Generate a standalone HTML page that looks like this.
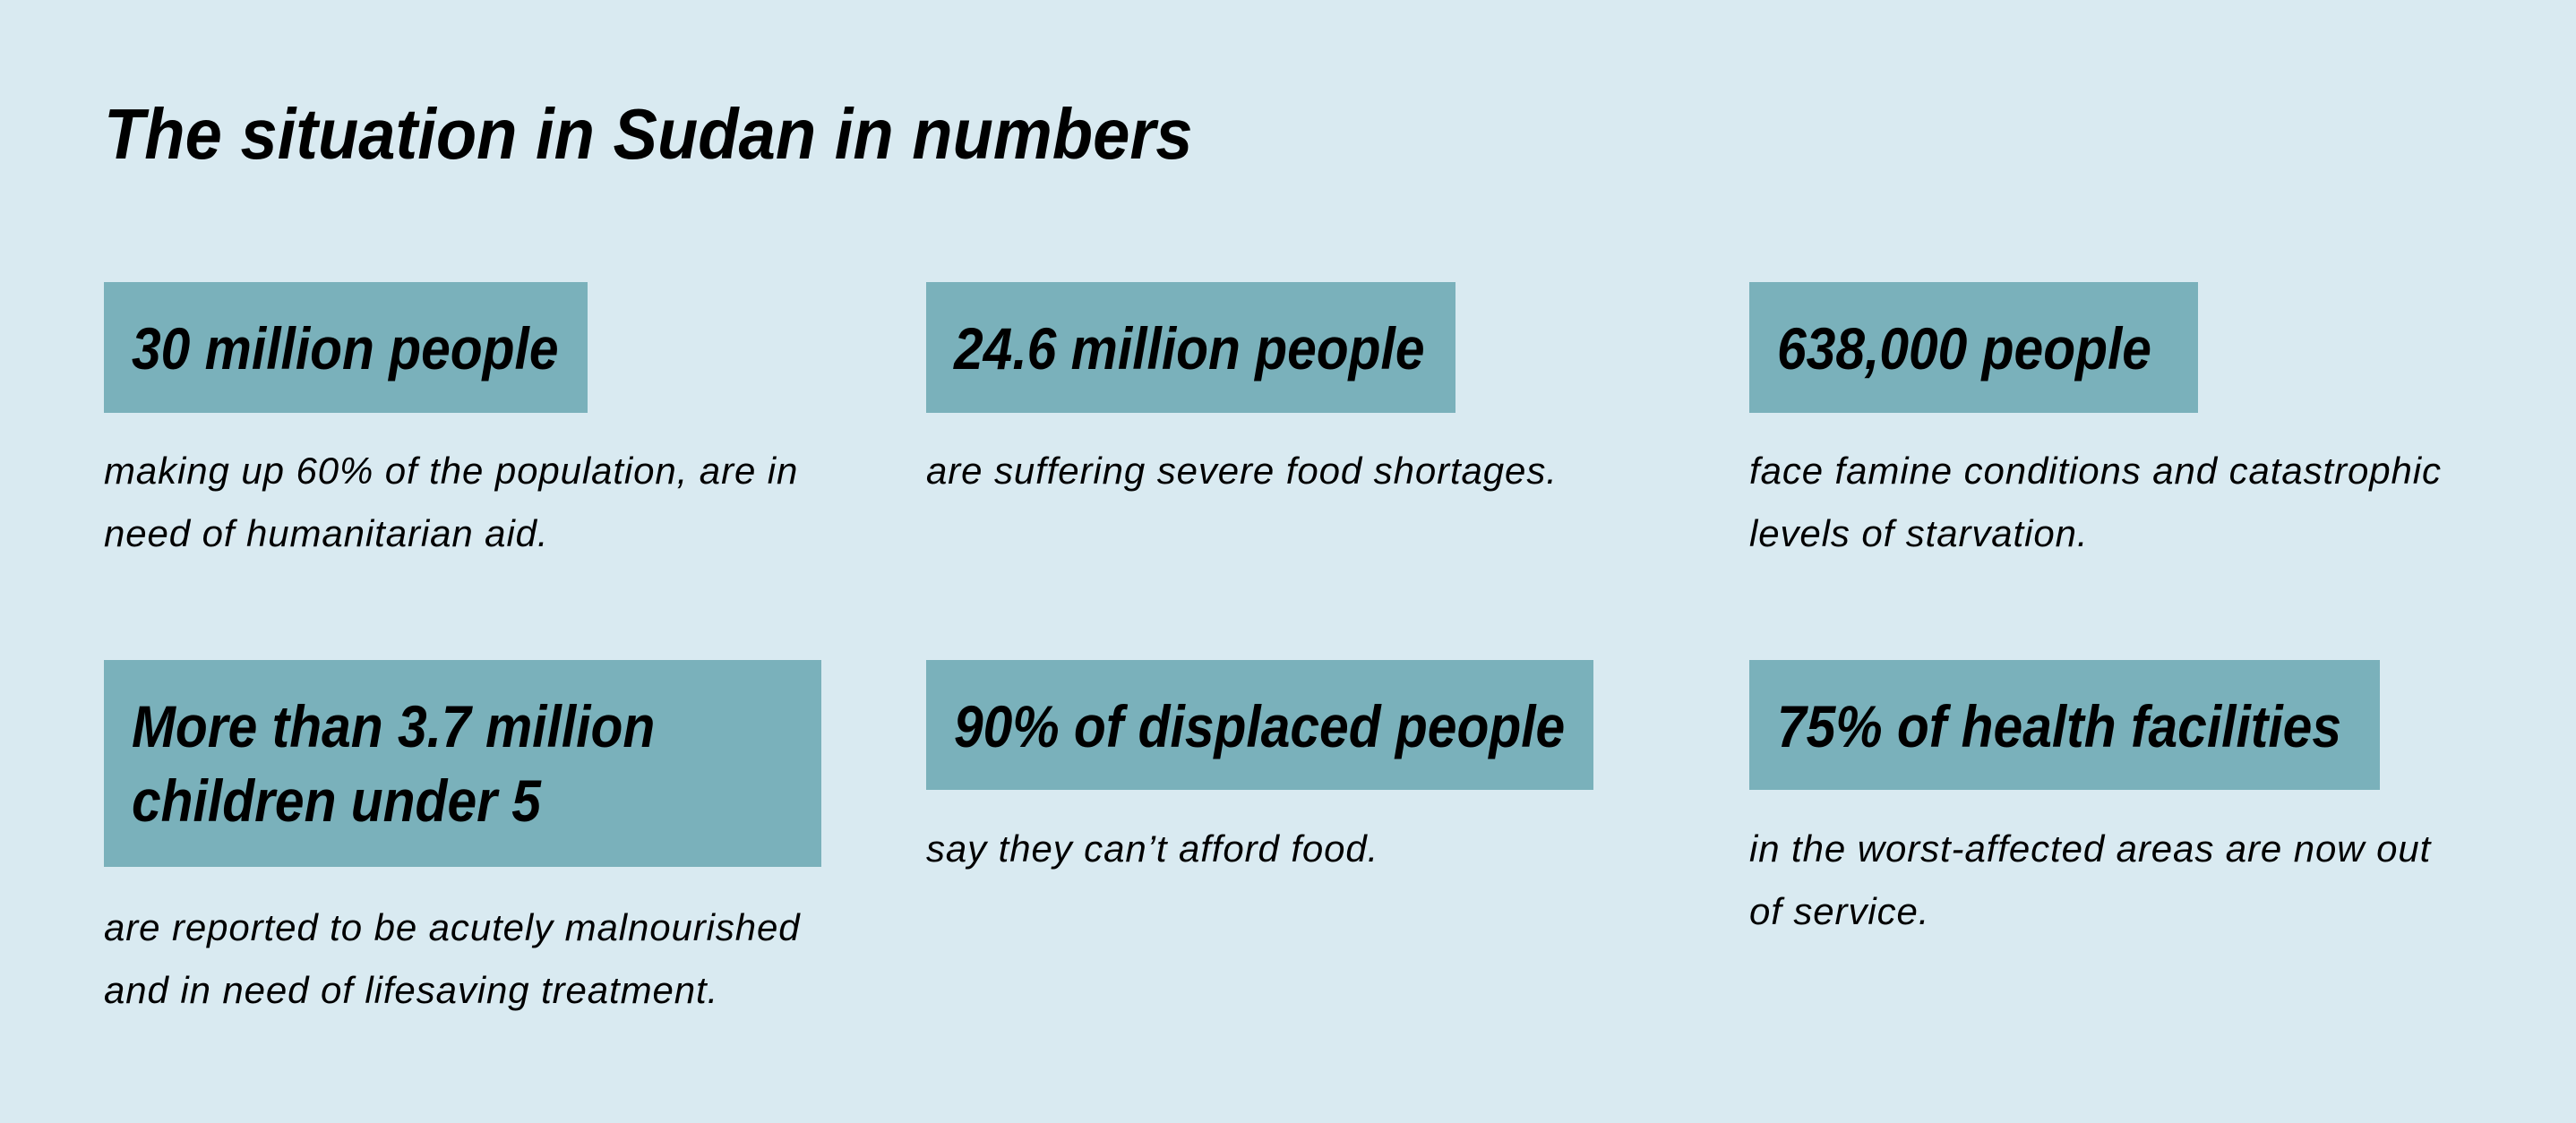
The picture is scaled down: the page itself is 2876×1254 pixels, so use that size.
<!DOCTYPE html>
<html><head><meta charset="utf-8"><style>
html,body{margin:0;padding:0}
body{width:2876px;height:1254px;background:#d9eaf1;position:relative;overflow:hidden;font-family:"Liberation Sans",sans-serif;color:#000}
.t{position:absolute;left:116px;top:100px;font-size:80px;line-height:100px;font-weight:bold;font-style:italic;white-space:nowrap;transform:scaleX(0.927);transform-origin:0 0}
.b{position:absolute;background:#7ab1bb}
.b span{position:absolute;left:31px;top:33px;font-size:66px;line-height:83px;font-weight:bold;font-style:italic;white-space:nowrap;transform:scaleX(0.89);transform-origin:0 0}
.d{position:absolute;font-size:42px;line-height:70px;font-style:italic;white-space:nowrap;letter-spacing:0.9px}
</style></head><body>
<div class="t">The situation in Sudan in numbers</div>

<div class="b" style="left:116px;top:315px;width:540px;height:146px"><span>30 million people</span></div>
<div class="b" style="left:1034px;top:315px;width:591px;height:146px"><span>24.6 million people</span></div>
<div class="b" style="left:1953px;top:315px;width:501px;height:146px"><span>638,000 people</span></div>

<div class="d" style="left:116px;top:491px">making up 60% of the population, are in<br>need of humanitarian aid.</div>
<div class="d" style="left:1034px;top:491px">are suffering severe food shortages.</div>
<div class="d" style="left:1953px;top:491px">face famine conditions and catastrophic<br>levels of starvation.</div>

<div class="b" style="left:116px;top:737px;width:801px;height:231px"><span>More than 3.7 million<br>children under 5</span></div>
<div class="b" style="left:1034px;top:737px;width:745px;height:145px"><span>90% of displaced people</span></div>
<div class="b" style="left:1953px;top:737px;width:704px;height:145px"><span>75% of health facilities</span></div>

<div class="d" style="left:116px;top:1001px">are reported to be acutely malnourished<br>and in need of lifesaving treatment.</div>
<div class="d" style="left:1034px;top:913px">say they can’t afford food.</div>
<div class="d" style="left:1953px;top:913px">in the worst-affected areas are now out<br>of service.</div>
</body></html>
